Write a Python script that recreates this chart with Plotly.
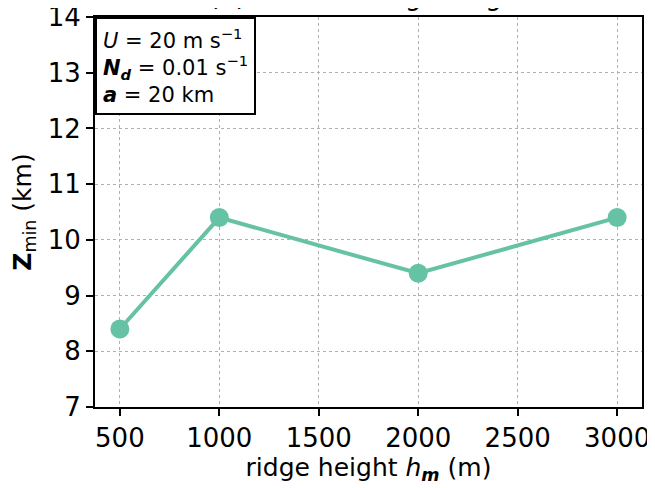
import plotly.graph_objects as go

ridge_height = [500, 1000, 2000, 3000]
z_min = [8.4, 10.4, 9.4, 10.4]
x_ticks = [500, 1000, 1500, 2000, 2500, 3000]
y_ticks = [7, 8, 9, 10, 11, 12, 13, 14]

color = "#66c2a5"
font = "DejaVu Sans"

fig = go.Figure()
fig.add_trace(go.Scatter(
    x=ridge_height, y=z_min, mode="lines+markers",
    line=dict(color=color, width=4),
    marker=dict(color=color, size=19),
    showlegend=False,
))

axis_common = dict(
    showline=True, linecolor="black", linewidth=2, mirror=True,
    ticks="outside", ticklen=7, tickwidth=2, tickcolor="black",
    showgrid=True, gridcolor="#b0b0b0", gridwidth=1, griddash="dot",
    zeroline=False, automargin=False, ticklabeloverflow="allow",
    tickfont=dict(family=font, size=26, color="black"),
)

fig.update_layout(
    width=647, height=480,
    margin=dict(l=87, r=13, t=9, b=81),
    plot_bgcolor="white", paper_bgcolor="white",
    font=dict(family=font, color="black"),
    xaxis=dict(range=[375, 3125], tickvals=x_ticks,
               title=dict(text="ridge height <i>h</i><sub><b><i>m</i></b></sub> (m)",
                          font=dict(family=font, size=25), standoff=4),
               **axis_common),
    yaxis=dict(range=[7, 14], tickvals=y_ticks,
               title=dict(text="<b>Z</b><sub>min</sub> (km)",
                          font=dict(family=font, size=25), standoff=10),
               **axis_common),
)

fig.add_annotation(
    xref="paper", yref="paper", x=0.5, y=1, yshift=4,
    xanchor="center", yanchor="bottom", showarrow=False,
    text="(b) Effect of ridge height",
    font=dict(family=font, size=26, color="black"),
)

fig.add_annotation(
    xref="paper", yref="paper", x=0, y=1, xanchor="left", yanchor="top",
    align="left", showarrow=False,
    text=("<i>U</i> = 20 m s<sup>−1</sup><br>"
          "<b><i>N<sub>d</sub></i></b> = 0.01 s<sup>−1</sup><br>"
          "<b><i>a</i></b> = 20 km"),
    font=dict(family=font, size=21, color="black"),
    bordercolor="black", borderwidth=2, borderpad=6, bgcolor="white",
)

fig.write_html("out.html")
